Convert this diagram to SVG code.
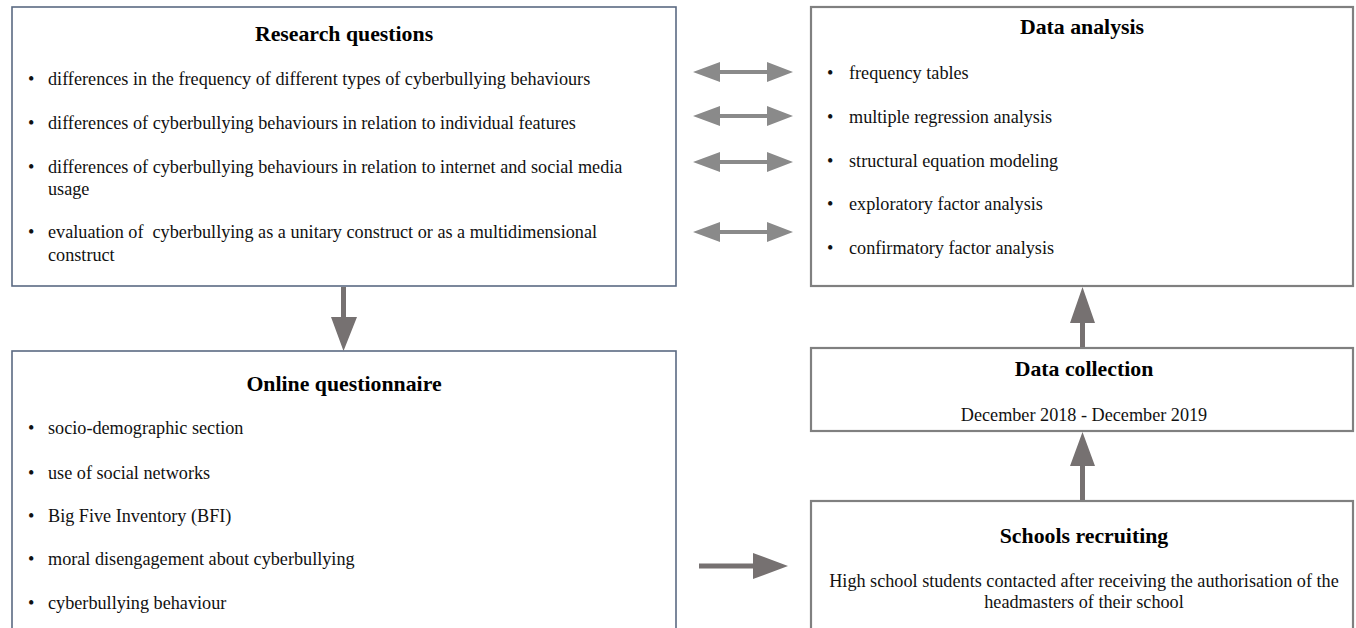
<svg xmlns="http://www.w3.org/2000/svg" width="1356" height="628" viewBox="0 0 1356 628">
<style>
.boxL{fill:#fff;stroke:#5b6a82;stroke-width:1.6}
.boxR{fill:#fff;stroke:#808080;stroke-width:2.2}
.t{font-family:"Liberation Serif","Times New Roman",serif;font-size:18.2px;fill:#111}
.h{font-family:"Liberation Serif","Times New Roman",serif;font-size:21.8px;font-weight:bold;fill:#000;text-anchor:middle}
.c{text-anchor:middle}
.arr{fill:#767171}
.dbl{fill:#8a8a8a}
</style>
<rect width="1356" height="628" fill="#fff"/>
<g id="research-questions">
<rect class="boxL" x="12" y="7" width="664" height="279"/>
<text class="h" x="344" y="41">Research questions</text>
<text class="t" x="28" y="85">•</text><text class="t" x="48" y="85">differences in the frequency of different types of cyberbullying behaviours</text>
<text class="t" x="28" y="129">•</text><text class="t" x="48" y="129">differences of cyberbullying behaviours in relation to individual features</text>
<text class="t" x="28" y="173">•</text><text class="t" x="48" y="173">differences of cyberbullying behaviours in relation to internet and social media</text>
<text class="t" x="48" y="195">usage</text>
<text class="t" x="28" y="238">•</text><text class="t" x="48" y="238" xml:space="preserve">evaluation of  cyberbullying as a unitary construct or as a multidimensional</text>
<text class="t" x="48" y="261">construct</text>
</g>
<g id="data-analysis">
<rect class="boxR" x="811" y="7" width="542" height="279"/>
<text class="h" x="1082" y="34">Data analysis</text>
<text class="t" x="827" y="79">•</text><text class="t" x="849" y="79">frequency tables</text>
<text class="t" x="827" y="123">•</text><text class="t" x="849" y="123">multiple regression analysis</text>
<text class="t" x="827" y="167">•</text><text class="t" x="849" y="167">structural equation modeling</text>
<text class="t" x="827" y="210">•</text><text class="t" x="849" y="210">exploratory factor analysis</text>
<text class="t" x="827" y="254">•</text><text class="t" x="849" y="254">confirmatory factor analysis</text>
</g>
<g id="online-questionnaire">
<rect class="boxL" x="12" y="351" width="664" height="290"/>
<text class="h" x="344" y="391">Online questionnaire</text>
<text class="t" x="28" y="434">•</text><text class="t" x="48" y="434">socio-demographic section</text>
<text class="t" x="28" y="479">•</text><text class="t" x="48" y="479">use of social networks</text>
<text class="t" x="28" y="522">•</text><text class="t" x="48" y="522">Big Five Inventory (BFI)</text>
<text class="t" x="28" y="565">•</text><text class="t" x="48" y="565">moral disengagement about cyberbullying</text>
<text class="t" x="28" y="609">•</text><text class="t" x="48" y="609">cyberbullying behaviour</text>
</g>
<g id="data-collection">
<rect class="boxR" x="811" y="348" width="542" height="83"/>
<text class="h" x="1084" y="376">Data collection</text>
<text class="t c" x="1084" y="421">December 2018 - December 2019</text>
</g>
<g id="schools-recruiting">
<rect class="boxR" x="811" y="501" width="542" height="140"/>
<text class="h" x="1084" y="543">Schools recruiting</text>
<text class="t c" x="1084" y="587">High school students contacted after receiving the authorisation of the</text>
<text class="t c" x="1084" y="608">headmasters of their school</text>
</g>
<g id="connectors">
<path class="dbl" d="M693,72 L720,62 L720,70 L767,70 L767,62 L793,72 L767,82 L767,74 L720,74 L720,82 Z"/>
<path class="dbl" d="M693,116 L720,106 L720,114 L767,114 L767,106 L793,116 L767,126 L767,118 L720,118 L720,126 Z"/>
<path class="dbl" d="M693,162 L720,152 L720,160 L767,160 L767,152 L793,162 L767,172 L767,164 L720,164 L720,172 Z"/>
<path class="dbl" d="M693,232 L720,222 L720,230 L767,230 L767,222 L793,232 L767,242 L767,234 L720,234 L720,242 Z"/>
<path class="arr" d="M341,287 L346,287 L346,317 L357,317 L343.5,351 L331,317 L341,317 Z"/>
<path class="arr" d="M699,563.5 L753,563.5 L753,553 L788,566 L753,579 L753,568.5 L699,568.5 Z"/>
<path class="arr" d="M1080,347 L1080,323 L1070,323 L1082.5,287 L1095,323 L1085,323 L1085,347 Z"/>
<path class="arr" d="M1080,500 L1080,466 L1070,466 L1082.5,432 L1095,466 L1085,466 L1085,500 Z"/>
</g>
</svg>
